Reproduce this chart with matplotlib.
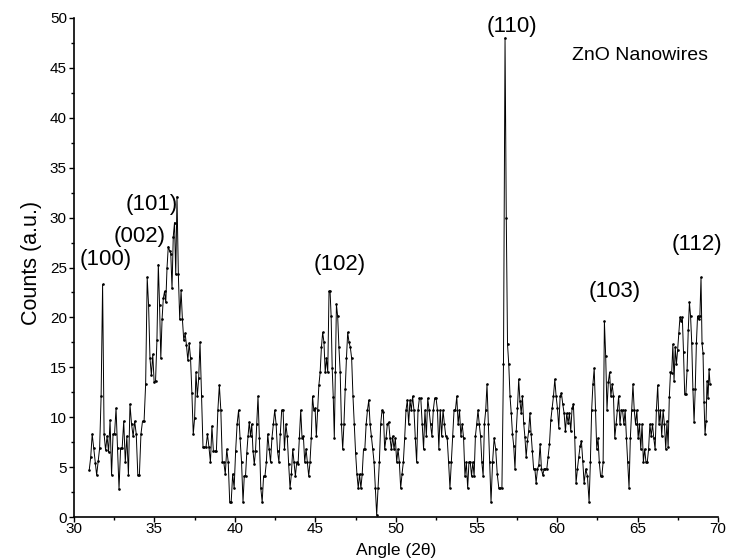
import numpy as np
import matplotlib
matplotlib.use("Agg")
import matplotlib.pyplot as plt

plt.rcParams['font.family'] = ['Liberation Sans', 'DejaVu Sans']

# XRD counts in order (a.u.)
counts = [
    4.7, 6.0, 8.3, 6.9, 5.4, 4.2, 5.6, 6.9, 12.1, 23.3,
    8.3, 6.7, 8.1, 6.5, 9.7, 4.2, 8.3, 8.3, 10.9, 6.9,
    2.8, 6.9, 6.9, 9.6, 5.5, 8.1, 4.2, 11.3, 9.3, 8.1,
    9.6, 8.3, 4.2, 4.2, 8.3, 9.6, 9.6, 13.3, 24.0, 21.2,
    15.9, 14.2, 16.3, 13.5, 13.6, 17.7, 25.3, 21.2, 15.9, 19.8,
    21.9, 22.6, 21.5, 25.0, 27.1, 26.7, 26.4, 22.9, 28.1, 29.5,
    24.3, 32.1, 24.3, 19.8, 22.7, 19.8, 17.7, 18.4, 17.2, 15.7,
    17.4, 15.9, 12.4, 8.3, 9.9, 14.5, 12.1, 13.9, 17.5, 12.1,
    7.0, 7.0, 7.0, 8.3, 7.0, 5.5, 9.1, 6.6, 6.6, 6.6,
    10.7, 13.2, 10.7, 5.5, 5.5, 4.3, 6.8, 5.5, 1.5, 1.5,
    4.3, 2.9, 6.6, 9.3, 10.7, 7.9, 5.5, 1.5, 4.1, 4.1,
    6.4, 8.1, 9.5, 8.1, 9.3, 6.6, 5.3, 6.6, 9.3, 12.1,
    7.9, 2.9, 1.5, 4.1, 4.1, 5.5, 8.3, 6.8, 5.5, 7.9,
    9.3, 10.7, 9.3, 6.6, 5.5, 8.3, 10.7, 10.7, 6.8, 9.3,
    8.1, 5.3, 2.9, 4.3, 6.8, 5.5, 4.1, 5.5, 5.3, 7.9,
    10.7, 7.9, 8.1, 5.5, 6.8, 5.5, 4.1, 5.5, 7.9, 12.1,
    10.7, 10.9, 8.1, 10.7, 13.2, 14.5, 17.0, 18.5, 17.5, 14.5,
    15.9, 14.5, 22.6, 22.6, 20.1, 14.9, 12.0, 7.9, 14.5, 21.3,
    20.1, 17.0, 14.5, 9.3, 6.8, 9.3, 12.8, 15.9, 18.5, 17.5,
    17.0, 15.9, 12.1, 9.3, 6.4, 4.3, 2.9, 4.3, 2.9, 4.3,
    6.8, 6.8, 9.3, 10.7, 11.7, 9.3, 8.1, 6.8, 5.5, 2.9,
    0.2, 2.9, 5.5, 9.3, 10.7, 10.5, 6.8, 7.9, 9.3, 9.5,
    7.9, 6.8, 8.1, 6.8, 7.9, 5.5, 6.8, 5.5, 2.9, 4.3,
    5.5, 7.9, 10.7, 11.7, 9.3, 11.7, 10.7, 12.1, 10.7, 7.9,
    5.5, 10.7, 11.9, 11.9, 9.3, 6.8, 10.7, 8.1, 11.9, 10.7,
    9.3, 8.1, 10.7, 11.9, 11.9, 10.7, 6.8, 10.7, 8.1, 10.7,
    9.3, 8.1, 7.9, 5.5, 2.9, 5.5, 8.1, 10.7, 10.7, 12.1,
    9.3, 10.7, 8.1, 9.3, 7.9, 4.1, 5.5, 2.9, 5.5, 5.5,
    4.1, 5.5, 4.1, 8.1, 9.3, 10.7, 9.3, 8.1, 5.5, 4.1,
    9.3, 10.7, 13.3, 9.3, 5.5, 1.5, 5.5, 7.9, 6.8, 4.3,
    2.9, 2.9, 2.9, 15.3, 48.0, 30.0, 17.3, 15.3, 12.1, 10.4,
    8.3, 7.1, 4.8, 8.6, 10.9, 13.8, 11.6, 10.4, 12.1, 9.4,
    8.0, 6.0, 7.6, 8.6, 10.4, 8.3, 6.6, 4.8, 4.8, 3.4,
    4.8, 5.2, 7.3, 4.8, 4.2, 4.8, 4.8, 4.8, 6.0, 7.3,
    9.7, 10.9, 12.1, 13.8, 12.1, 10.9, 8.9, 12.1, 12.4, 11.3,
    10.4, 8.6, 10.4, 9.4, 10.4, 8.6, 10.9, 11.3, 8.0, 3.4,
    4.8, 6.0, 7.1, 7.6, 5.6, 3.4, 4.8, 4.1, 1.5, 5.5,
    10.7, 13.3, 14.9, 10.7, 6.8, 7.9, 5.5, 4.1, 4.1, 5.5,
    19.6, 16.1, 10.7, 13.5, 14.5, 12.1, 13.3, 12.1, 7.9, 9.3,
    10.7, 12.1, 9.3, 10.7, 10.7, 9.3, 10.7, 7.9, 5.5, 2.9,
    7.9, 10.7, 13.3, 10.7, 9.3, 10.7, 7.9, 9.3, 6.8, 9.3,
    5.5, 6.8, 5.5, 5.5, 6.8, 9.3, 8.1, 9.3, 7.9, 6.8,
    10.7, 13.2, 9.3, 10.7, 8.1, 10.7, 9.3, 6.8, 9.6, 7.0,
    12.0, 14.5, 14.4, 17.3, 13.6, 17.0, 15.3, 16.7, 18.4, 20.0,
    19.6, 20.0, 16.5, 12.3, 12.3, 14.7, 18.7, 21.5, 20.1, 17.4,
    12.8, 9.5, 12.8, 17.4, 20.1, 19.8, 20.1, 24.0, 17.4, 16.4,
    11.5, 8.3, 9.6, 13.6, 11.9, 14.8, 13.3,
]

# sample index -> angle (2theta) at recognisable features of the scan
anchor_idx = [0, 9, 20, 38, 46, 61, 78, 91, 107, 119, 142, 156, 172, 179,
              188, 210, 228, 240, 264, 277, 292, 295, 304, 329, 343, 359,
              365, 368, 380, 399, 421, 427, 447, 457, 466]
anchor_deg = [30.95, 31.78, 32.8, 34.55, 35.24, 36.4, 37.83, 39.03, 40.5,
              41.43, 43.42, 44.58, 45.84, 46.3, 47.0, 48.8, 50.29, 51.28,
              53.35, 54.45, 55.65, 55.9, 56.77, 58.7, 59.86, 61.18, 61.68,
              61.99, 62.94, 64.47, 66.25, 66.75, 68.22, 68.94, 69.5]

# peak labels
peak_names = ['(100)', '(002)', '(101)', '(102)', '(110)', '(103)', '(112)']
peak_x = [32.0, 34.1, 34.85, 46.5, 57.2, 63.6, 68.7]
peak_y = [25.8, 28.1, 31.3, 25.3, 49.1, 22.6, 27.3]

counts = np.array(counts)
angle = np.interp(np.arange(len(counts)), anchor_idx, anchor_deg)

fig = plt.figure(figsize=(7.32, 5.59), dpi=100)
ax = fig.add_axes([0.101, 0.0751, 0.880, 0.8927])

ax.plot(angle, counts, color='black', lw=0.7, marker='.', ms=1.8)

for name, px, py in zip(peak_names, peak_x, peak_y):
    ax.text(px, py, name, fontsize=16, ha='center', va='center')
ax.text(60.9, 46.2, 'ZnO Nanowires', fontsize=14, ha='left', va='center')

ax.set_xlim(30, 70)
ax.set_ylim(0, 50)
ax.set_xticks(np.arange(30, 71, 5))
ax.set_xticks(np.arange(30, 71, 2.5), minor=True)
ax.set_yticks(np.arange(0, 51, 5))
ax.set_yticks(np.arange(0, 51, 2.5), minor=True)
ax.tick_params(which='major', direction='out', length=3.6, width=1, labelsize=11, pad=0)
ax.tick_params(axis='y', which='major', pad=1.5)
ax.tick_params(which='minor', direction='out', length=2, width=1)
ax.spines['top'].set_visible(False)
ax.spines['right'].set_visible(False)
ax.spines['left'].set_linewidth(1.2)
ax.spines['bottom'].set_linewidth(1.2)

ax.set_xlabel('Angle (2θ)', fontsize=12.5, va='baseline')
ax.xaxis.set_label_coords(0.5, -0.0766)
ax.set_ylabel('Counts (a.u.)', fontsize=15.5)
ax.yaxis.set_label_coords(-0.05, 0.51)

fig.savefig('out.png', dpi=100)
